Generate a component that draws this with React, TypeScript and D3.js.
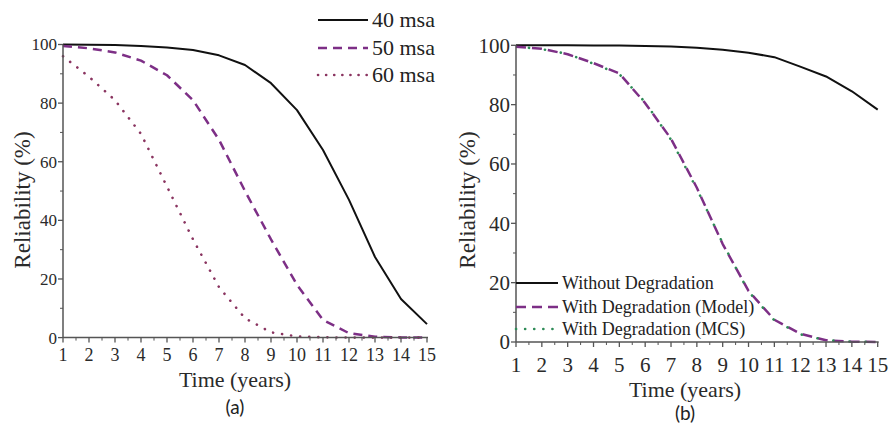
import React from "react";
import * as d3 from "d3";

// Panel (a): reliability for three load levels
const years = [1, 2, 3, 4, 5, 6, 7, 8, 9, 10, 11, 12, 13, 14, 15];
const msa40 = [100, 99.95, 99.8, 99.5, 99.0, 98.1, 96.3, 93, 86.8, 77.6, 64, 47, 27.5, 13.2, 4.6];
const msa50 = [99.5, 98.7, 97.3, 94.5, 89.5, 81, 67.5, 50, 33.5, 18, 6, 1.5, 0.3, 0.05, 0];
const msa60 = [96, 89, 81, 69.5, 51.5, 33.5, 17.2, 6.6, 1.8, 0.4, 0.1, 0, 0, 0, 0];

// Panel (b): with and without degradation
const noDegradation = [100, 100, 99.98, 99.95, 99.9, 99.8, 99.6, 99.2, 98.5, 97.5, 96, 92.8, 89.5, 84.5, 78.3];
const degModel = [99.5, 98.8, 97, 94, 90.5, 80.5, 68.5, 52, 33, 17.2, 7.5, 2.8, 0.6, 0.1, 0];
const degMCS = [99.6, 98.7, 97.1, 93.8, 90.3, 80.8, 68.2, 51.6, 33.3, 17.0, 7.3, 2.6, 0.6, 0.1, 0];

const yTicks = [0, 20, 40, 60, 80, 100];
const yMinor = [10, 30, 50, 70, 90];
const xMinor = [1.5, 2.5, 3.5, 4.5, 5.5, 6.5, 7.5, 8.5, 9.5, 10.5, 11.5, 12.5, 13.5, 14.5];

const SERIF = "'Liberation Serif', 'Times New Roman', serif";
const SANS = "Lato, 'Open Sans', sans-serif";
const AXIS = "#555";
const PURPLE = "#7d2f86";
const DOTRED = "#8a3460";
const GREEN = "#2e8b57";

type SeriesDef = { values: number[]; stroke: string; dash?: string; width: number; cap?: string; offset?: number };
type LegendDef = { label: string; stroke: string; dash?: string; width: number; cap?: string };

type PanelProps = {
  x0: number; x1: number; y0: number; y1: number;
  series: SeriesDef[];
  tickFont: number; yTickFont: number; tickBaseline: number;
  titleBaseline: number; titleX: number; yTitleX: number; yTitleY: number;
  tag: string; tagBaseline: number;
  legend: LegendDef[]; legX0: number; legX1: number; legYs: number[]; legFont: number;
};

function Panel(p: PanelProps) {
  const x = d3.scaleLinear().domain([1, 15]).range([p.x0, p.x1]);
  const y = d3.scaleLinear().domain([0, 100]).range([p.y0, p.y1]);
  const line = d3.line<number>().x((_, i) => x(years[i])).y((v) => y(v));
  return (
    <g>
      {p.series.map((s, i) => (
        <path key={i} d={line(s.values) || ""} fill="none" stroke={s.stroke} strokeWidth={s.width}
          strokeDasharray={s.dash} strokeLinecap={(s.cap as any) || "butt"} strokeDashoffset={s.offset || 0}
          strokeLinejoin="round" />
      ))}
      {/* axes */}
      <line x1={p.x0} x2={p.x0} y1={p.y0} y2={p.y1} stroke={AXIS} strokeWidth={1.5} />
      <line x1={p.x0} x2={p.x1 + 1} y1={p.y0} y2={p.y0} stroke={AXIS} strokeWidth={1.5} />
      {yTicks.map((t) => (
        <g key={"yt" + t}>
          <line x1={p.x0 - 5} x2={p.x0} y1={y(t)} y2={y(t)} stroke={AXIS} strokeWidth={1.3} />
          <text x={p.x0 - 6} y={y(t)} dy="0.35em" textAnchor="end" fontFamily={SERIF} fontSize={p.yTickFont} fill="#2a2a2a">{t}</text>
        </g>
      ))}
      {yMinor.map((t) => (
        <line key={"ym" + t} x1={p.x0 - 3} x2={p.x0} y1={y(t)} y2={y(t)} stroke={AXIS} strokeWidth={1} />
      ))}
      {years.map((t) => (
        <g key={"xt" + t}>
          <line x1={x(t)} x2={x(t)} y1={p.y0} y2={p.y0 + 5} stroke={AXIS} strokeWidth={1.3} />
          <text x={x(t)} y={p.tickBaseline} textAnchor="middle" fontFamily={SERIF} fontSize={p.tickFont} fill="#2a2a2a">{t}</text>
        </g>
      ))}
      {xMinor.map((t) => (
        <line key={"xm" + t} x1={x(t)} x2={x(t)} y1={p.y0} y2={p.y0 + 3} stroke={AXIS} strokeWidth={1} />
      ))}
      <text x={p.titleX} y={p.titleBaseline} textAnchor="middle" fontFamily={SERIF} fontSize={22} fill="#2a2a2a">Time (years)</text>
      <text transform={`translate(${p.yTitleX},${p.yTitleY}) rotate(-90)`} textAnchor="middle" dy="0.35em"
        fontFamily={SERIF} fontSize={23} fill="#2a2a2a">Reliability (%)</text>
      <text x={p.titleX} y={p.tagBaseline} textAnchor="middle" fontFamily={SANS} fontSize={19} fill="#222">{p.tag}</text>
      {p.legend.map((l, i) => (
        <g key={"lg" + i}>
          <line x1={p.legX0} x2={p.legX1} y1={p.legYs[i]} y2={p.legYs[i]} stroke={l.stroke} strokeWidth={l.width}
            strokeDasharray={l.dash} strokeLinecap={(l.cap as any) || "butt"} />
          <text x={p.legX1 + 4} y={p.legYs[i]} dy="0.33em" fontFamily={SERIF} fontSize={p.legFont} fill="#222">{l.label}</text>
        </g>
      ))}
    </g>
  );
}

export default function App() {
  return (
    <svg width={891} height={424} style={{ position: "absolute", left: 0, top: 0, background: "#fff" }}>
      <rect width={891} height={424} fill="#fff" />
      <Panel
        x0={63} x1={427} y0={337.6} y1={44.5}
        series={[
          { values: msa40, stroke: "#111", width: 2 },
          { values: msa50, stroke: PURPLE, width: 2.5, dash: "9 6" },
          { values: msa60, stroke: DOTRED, width: 2.6, dash: "0.1 9", cap: "round" },
        ]}
        tickFont={18} yTickFont={17} tickBaseline={361}
        titleBaseline={387} titleX={235} yTitleX={22} yTitleY={200}
        tag="(a)" tagBaseline={414}
        legend={[
          { label: "40 msa", stroke: "#111", width: 2 },
          { label: "50 msa", stroke: PURPLE, width: 2.5, dash: "9 6" },
          { label: "60 msa", stroke: DOTRED, width: 2.6, dash: "0.1 8", cap: "round" },
        ]}
        legX0={318} legX1={368} legYs={[20, 48, 75]} legFont={22}
      />
      <Panel
        x0={516} x1={877.7} y0={342} y1={45.3}
        series={[
          { values: noDegradation, stroke: "#111", width: 2 },
          { values: degModel, stroke: PURPLE, width: 2.5, dash: "10 6" },
          { values: degMCS, stroke: GREEN, width: 2.6, dash: "0.1 16", cap: "round", offset: -13 },
        ]}
        tickFont={21} yTickFont={21} tickBaseline={372}
        titleBaseline={397} titleX={685} yTitleX={467} yTitleY={200}
        tag="(b)" tagBaseline={420}
        legend={[
          { label: "Without Degradation", stroke: "#111", width: 2 },
          { label: "With Degradation (Model)", stroke: PURPLE, width: 2.5, dash: "10 6" },
          { label: "With Degradation (MCS)", stroke: GREEN, width: 2.6, dash: "0.1 9", cap: "round" },
        ]}
        legX0={516} legX1={558} legYs={[283, 307, 329]} legFont={18}
      />
    </svg>
  );
}
